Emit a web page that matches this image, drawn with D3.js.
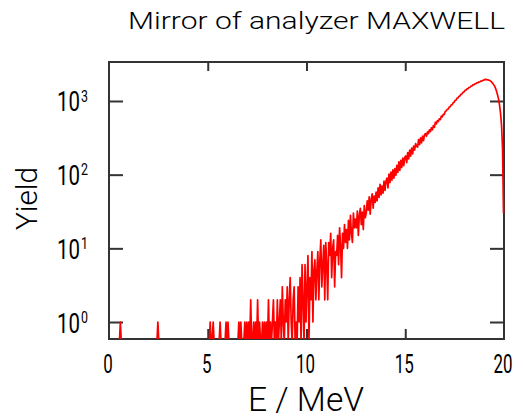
<!DOCTYPE html>
<html><head><meta charset="utf-8">
<script src="https://cdn.jsdelivr.net/npm/d3@7"></script>
<style>body{margin:0;background:#fff}svg{display:block}</style>
</head><body>
<svg id="c" width="523" height="416"></svg>
<script>
// ---------------- data ----------------
const title = "Mirror of analyzer MAXWELL";
const xTitle = "E / MeV";
const yTitle = "Yield";
const xTickValues = [0, 5, 10, 15, 20];
const yTickExponents = [0, 1, 2, 3];
const xDomain = [0, 20];
const yDomain = [0.588, 3383];
const binStart = 0;
const binWidth = 0.05;
const counts = [
0,0,0,0,0,0,0,0,0,0,0,1,0,0,0,0,0,0,0,0,
0,0,0,0,0,0,0,0,0,0,0,0,0,0,0,0,0,0,0,0,
0,0,0,0,0,0,0,0,0,1,0,0,0,0,0,0,0,0,0,0,
0,0,0,0,0,0,0,0,0,0,0,0,0,0,0,0,0,0,0,0,
0,0,0,0,0,0,0,0,0,0,0,0,0,0,0,0,0,0,0,0,
0,0,1,0,0,1,0,0,0,0,0,0,1,0,0,0,0,0,1,0,
1,0,0,0,0,0,0,0,0,0,0,1,0,1,0,0,0,1,0,1,
0,1,0,2,0,0,1,0,1,0,2,0,1,0,0,1,0,1,0,1,
0,2,0,1,0,1,2,0,1,0,2,0,1,2,0,3,1,0,2,1,
3,0,2,4,1,0,2,3,0,1,0,3,1,4,0,6,2,0,6,1,
3,8,0,4,2,9,1,5,7,2,5,9,2,7,13,3,6,11,2,12,
6,2,12,8,16,4,10,13,3,9,8,15,6,19,11,4,16,10,21,12,
18,10,24,13,28,16,12,30,19,25,19,32,15,28,35,21,31,18,38,26,
30,44,33,50,29,46,55,35,51,42,58,44,66,49,74,53,70,56,82,61,
82,90,66,102,78,108,84,116,90,121,98,134,107,149,114,156,125,168,133,172,
180,146,200,164,216,178,230,192,245,216,264,242,236,300,255,316,270,334,290,350,
360,332,380,360,406,384,434,406,464,440,515,488,540,526,574,558,622,608,658,655,
720,735,770,778,828,836,884,893,945,962,1018,1030,1098,1102,1162,1175,1232,1250,1312,1330,
1392,1405,1458,1470,1525,1535,1588,1598,1652,1660,1710,1718,1762,1770,1808,1818,1858,1866,1905,1915,
1955,1960,1952,1940,1920,1895,1860,1810,1745,1670,1590,1480,1350,1210,1060,880,680,470,230,30
];

// ---------------- layout ----------------
const plot = {left: 109, right: 504, top: 62, bottom: 339};
const FONT = "Roboto,'Liberation Sans',Arial,sans-serif";
const frameColor = "#333";

const svg = d3.select("#c");
const x = d3.scaleLinear().domain(xDomain).range([plot.left, plot.right]);
const y = d3.scaleLog().domain(yDomain).range([plot.bottom, plot.top]);

const pts = counts.map((c, i) => ({e: binStart + binWidth * (i + 0.5), c}));
svg.append("defs").append("clipPath").attr("id", "clip")
  .append("rect").attr("x", plot.left).attr("y", plot.top)
  .attr("width", plot.right - plot.left + 1).attr("height", plot.bottom - plot.top);

// frame
svg.append("rect")
  .attr("x", plot.left).attr("y", plot.top)
  .attr("width", plot.right - plot.left).attr("height", plot.bottom - plot.top)
  .attr("fill", "none").attr("stroke", frameColor).attr("stroke-width", 2);

// axes (ticks only, inward)
const yTickVals = yTickExponents.map(p => Math.pow(10, p));
function styleAxis(g) {
  g.select(".domain").remove();
  g.selectAll(".tick line").attr("stroke", frameColor).attr("stroke-width", 2);
  g.selectAll(".tick text").remove();
}
svg.append("g").attr("transform", `translate(${plot.left},0)`)
  .call(d3.axisLeft(y).tickValues(yTickVals).tickSize(-14).tickFormat(""))
  .call(styleAxis);
svg.append("g").attr("transform", `translate(${plot.right},0)`)
  .call(d3.axisRight(y).tickValues(yTickVals).tickSize(-14).tickFormat(""))
  .call(styleAxis);
svg.append("g").attr("transform", `translate(0,${plot.bottom})`)
  .call(d3.axisBottom(x).tickValues(xTickValues.slice(1, -1)).tickSize(-10).tickFormat(""))
  .call(styleAxis);
svg.append("g").attr("transform", `translate(0,${plot.top})`)
  .call(d3.axisTop(x).tickValues(xTickValues.slice(1, -1)).tickSize(-9).tickFormat(""))
  .call(styleAxis);

// data line
const line = d3.line()
  .x(d => x(d.e))
  .y(d => d.c > 0 ? y(d.c) : plot.bottom + 4);
svg.append("path")
  .datum(pts)
  .attr("clip-path", "url(#clip)")
  .attr("d", line)
  .attr("fill", "none")
  .attr("stroke", "#ff0000")
  .attr("stroke-width", 1.7)
  .attr("stroke-linejoin", "round");

// x tick labels
svg.append("g").selectAll("text").data(xTickValues).join("text")
  .attr("x", d => x(d) - 1).attr("y", 373)
  .attr("text-anchor", "middle")
  .attr("font-family", FONT).attr("font-weight", 400).attr("font-size", 25)
  .attr("textLength", d => String(d).length * 9.5)
  .attr("lengthAdjust", "spacingAndGlyphs")
  .attr("fill", "#000")
  .text(d => d);

// y tick labels 10^n (single text with superscript tspan, condensed)
const yl = svg.append("g").selectAll("text").data(yTickExponents).join("text")
  .attr("transform", d => `translate(57,${y(Math.pow(10, d)) + 10.5}) scale(0.73,1)`)
  .attr("font-family", FONT).attr("font-weight", 400)
  .attr("fill", "#000");
yl.append("tspan").attr("font-size", 28).text("10");
yl.append("tspan").attr("font-size", 17).attr("dx", 1.5).attr("dy", -9.8).text(d => d);

// titles
svg.append("text")
  .attr("x", 128).attr("y", 29.3)
  .attr("font-family", FONT).attr("font-weight", 300).attr("font-size", 24.5)
  .attr("textLength", 377).attr("lengthAdjust", "spacingAndGlyphs")
  .attr("fill", "#000").text(title);
svg.append("text")
  .attr("x", 248).attr("y", 411)
  .attr("font-family", FONT).attr("font-weight", 300).attr("font-size", 33)
  .attr("textLength", 116).attr("lengthAdjust", "spacingAndGlyphs")
  .attr("fill", "#000").text(xTitle);
svg.append("text")
  .attr("transform", "translate(37,230) rotate(-90)")
  .attr("x", 0).attr("y", 0)
  .attr("font-family", FONT).attr("font-weight", 300).attr("font-size", 30)
  .attr("textLength", 63).attr("lengthAdjust", "spacingAndGlyphs")
  .attr("fill", "#000").text(yTitle);
</script>
</body></html>
